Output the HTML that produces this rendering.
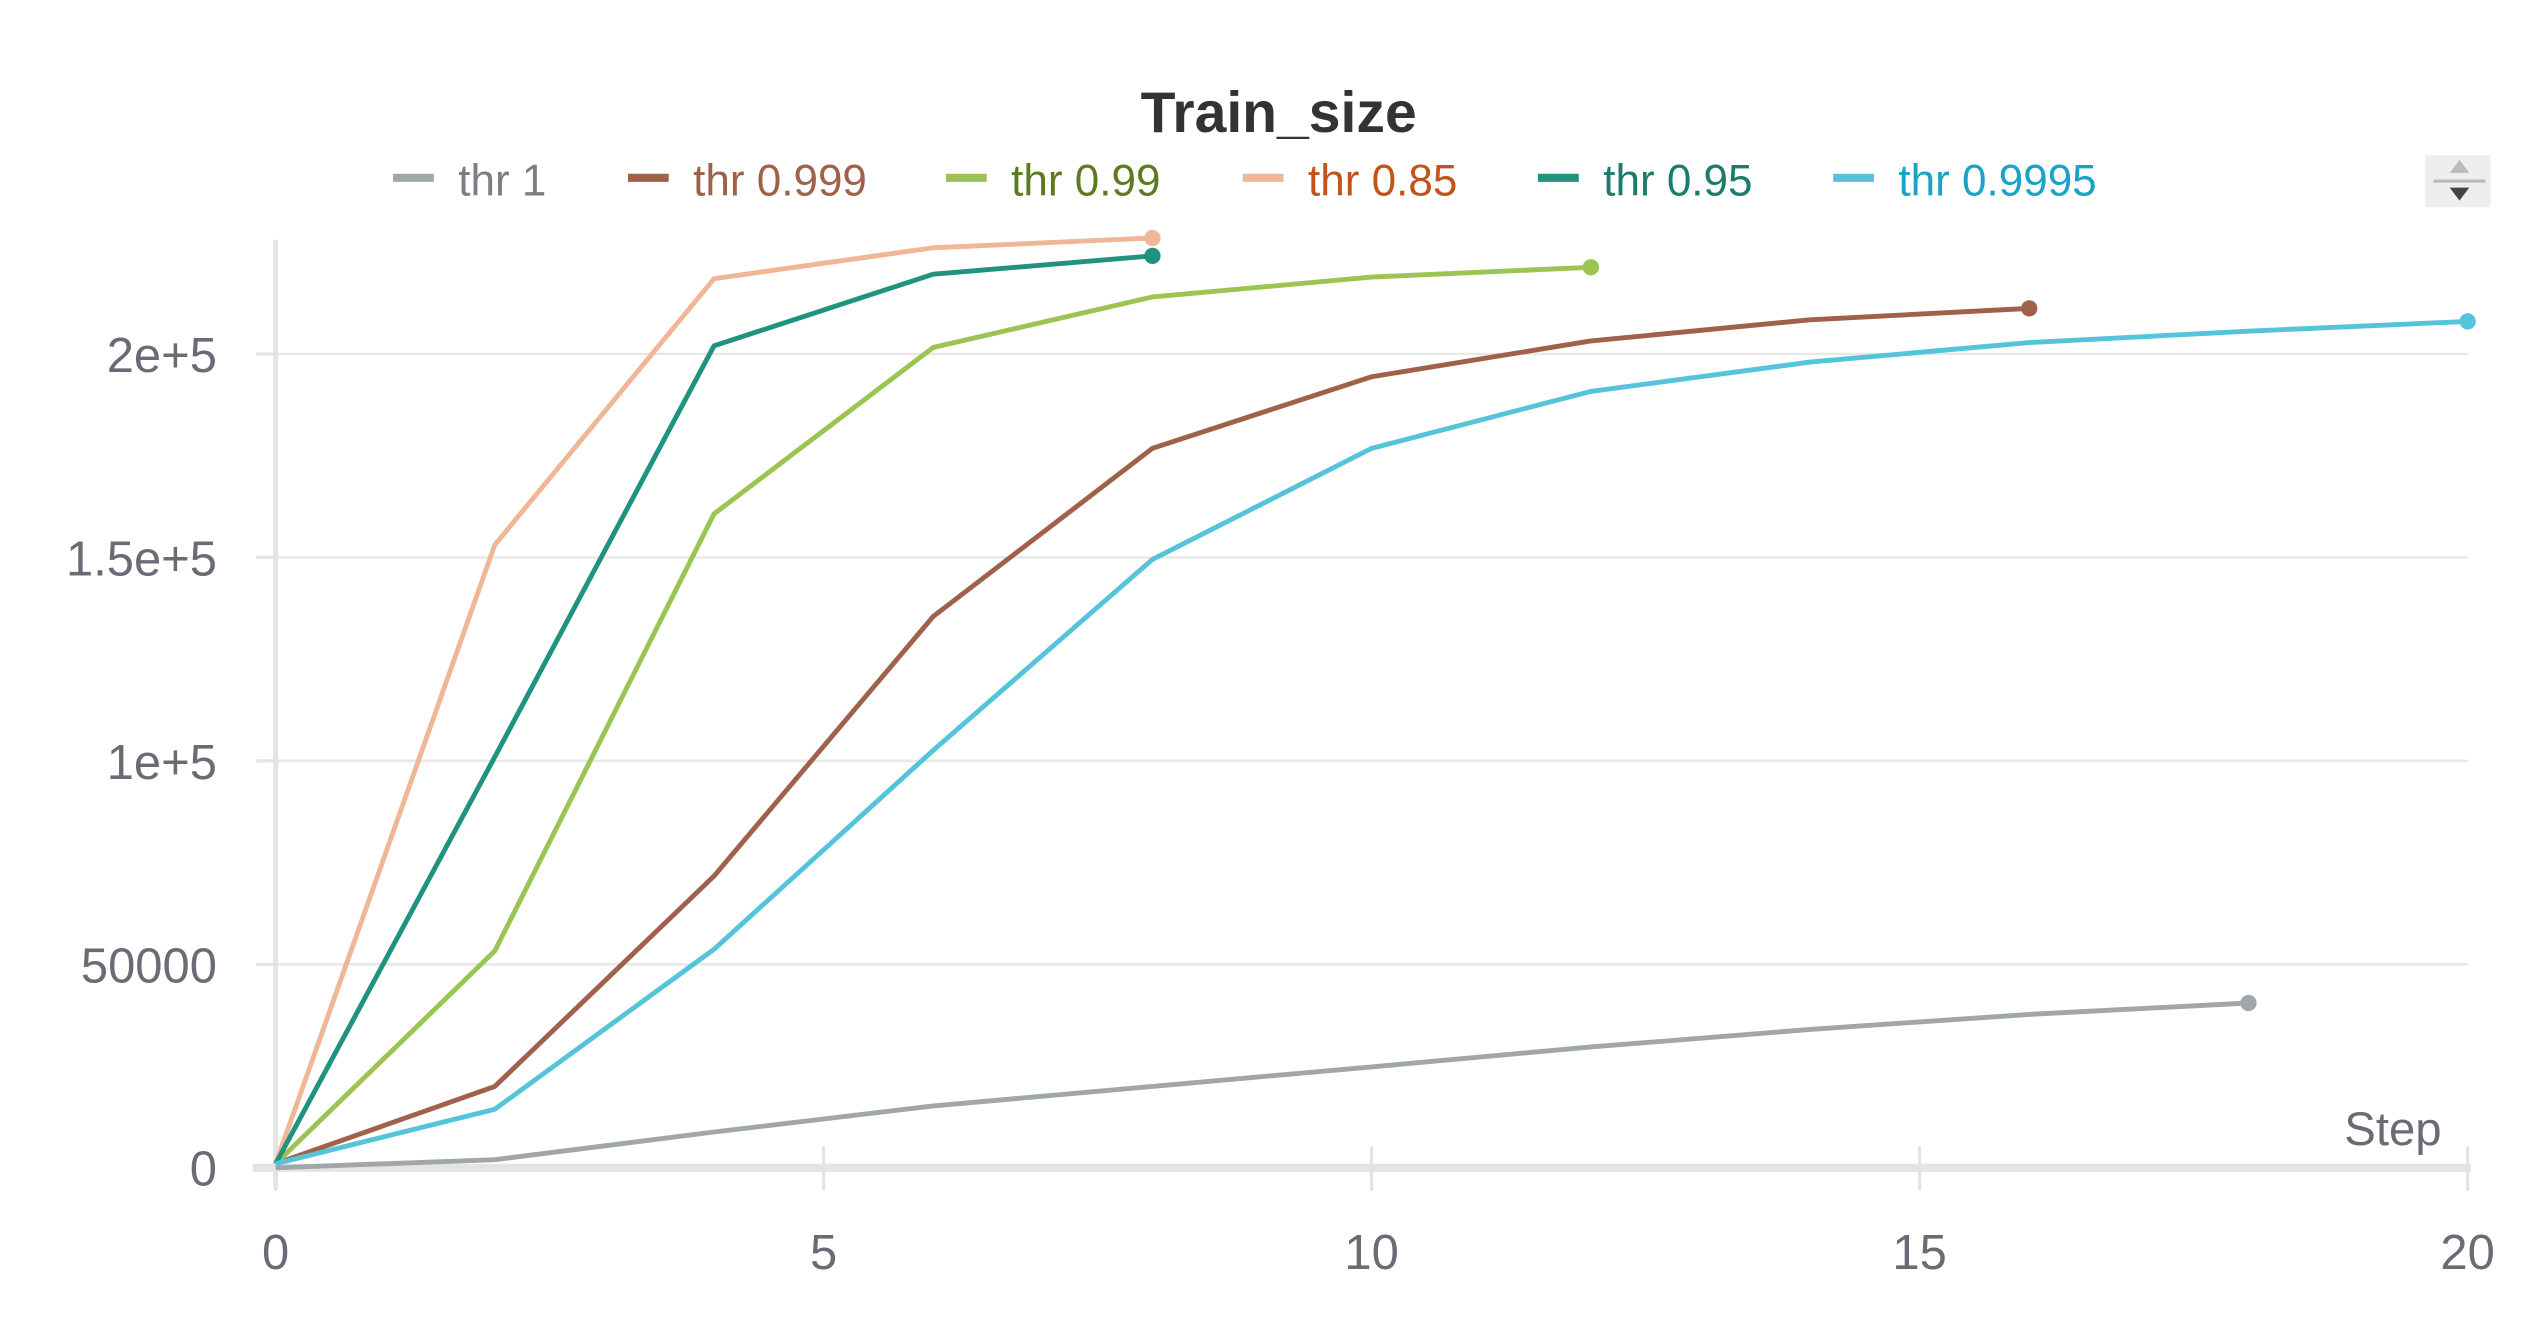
<!DOCTYPE html>
<html><head><meta charset="utf-8"><style>
html,body{margin:0;padding:0;background:#fff;}
svg{display:block;font-family:"Liberation Sans",sans-serif;}
</style></head><body>
<svg width="2528" height="1328" viewBox="0 0 1550 814.2" id="chart">
<text x="784" y="81" text-anchor="middle" font-size="35" font-weight="bold" fill="#333">Train_size</text>
<g id="legend"></g>
<g>
<rect x="1487" y="95" width="40" height="32" fill="#eee"/>
<polygon points="1502,106 1514,106 1508,98" fill="#bbb"/>
<line x1="1492" y1="111" x2="1524" y2="111" stroke="#bbb" stroke-width="2"/>
<polygon points="1502,115 1514,115 1508,123" fill="#444"/>
</g>
<g id="grid"></g>
<g id="axes"></g>
<g id="series"></g>
<text x="1497" y="702" text-anchor="end" font-size="29" fill="#6b6b76">Step</text>
</svg>
<script>
const names = ["thr 1","thr 0.999","thr 0.99","thr 0.85","thr 0.95","thr 0.9995"];
const lineColors = ["#a0a7ab","#a0614a","#9bc453","#f0b796","#1f9380","#55c4da"];
const textColors = ["#7a7f86","#a0614a","#5d7a1f","#c0541a","#1a7d6c","#1aa3c7"];
const legendX = [241,385,580,762,943,1124];
const stepsS0 = [0,2,4,6,8,10,12,14,16,18];
const valsS0 = [0,2000,8800,15200,20000,24800,29700,34000,37700,40500];
const stepsS1 = [0,2,4,6,8,10,12,14,16];
const valsS1 = [1000,20000,71700,135500,176800,194400,203200,208400,211200];
const stepsS2 = [0,2,4,6,8,10,12];
const valsS2 = [1000,53300,160700,201600,214000,218900,221300];
const stepsS3 = [0,2,4,6,8];
const valsS3 = [1000,153100,218500,226100,228500];
const stepsS4 = [0,2,4,6,8];
const valsS4 = [1000,101000,202000,219600,224100];
const stepsS5 = [0,2,4,6,8,10,12,14,16,18,20];
const valsS5 = [1000,14400,53700,102600,149500,176800,190800,198000,202800,205600,208000];
const yTicks = [0,50000,100000,150000,200000];
const yTickLabels = ["0","50000","1e+5","1.5e+5","2e+5"];
const xTicks = [0,5,10,15,20];
const xTickLabels = ["0","5","10","15","20"];

const NS="http://www.w3.org/2000/svg";
const X0=169,X1=1513,Y0=716,Y1=217;
const xs=v=>X0+(X1-X0)*v/20;
const ys=v=>Y0-(Y0-Y1)*v/200000;
function mk(tag,attrs,parent){const e=document.createElementNS(NS,tag);for(const k in attrs)e.setAttribute(k,attrs[k]);parent.appendChild(e);return e;}
const grid=document.getElementById('grid'),axes=document.getElementById('axes'),ser=document.getElementById('series'),leg=document.getElementById('legend');
yTicks.forEach((t,i)=>{
  if(t>0){const g=mk('line',{x1:X0,x2:X1,y1:ys(t),y2:ys(t),stroke:'#e8e8e8','stroke-width':1.5},grid);
  
  }
  const tk=mk('line',{x1:157,x2:169,y1:ys(t),y2:ys(t),stroke:'#e4e4e4','stroke-width':2},axes);
  
  
  const tx=mk('text',{x:133,y:ys(t)+11,'text-anchor':'end','font-size':30,fill:'#6b6b76'},axes);
  tx.textContent=yTickLabels[i];
  
  
});
const ya=mk('line',{x1:X0,x2:X0,y1:147,y2:729,stroke:'#e4e4e4','stroke-width':3},axes);


const xa=mk('line',{x1:155,x2:X1+2,y1:Y0,y2:Y0,stroke:'#e4e4e4','stroke-width':5},axes);


xTicks.forEach((t,i)=>{
  const tk=mk('line',{x1:xs(t),x2:xs(t),y1:703,y2:730,stroke:'#e4e4e4','stroke-width':2},axes);
  
  
  const tx=mk('text',{x:xs(t),y:778,'text-anchor':'middle','font-size':30,fill:'#6b6b76'},axes);
  tx.textContent=xTickLabels[i];
  
  
});
const allSteps=[stepsS0,stepsS1,stepsS2,stepsS3,stepsS4,stepsS5];
const allVals=[valsS0,valsS1,valsS2,valsS3,valsS4,valsS5];
allSteps.forEach((st,i)=>{
  const vals=allVals[i];
  const pts=st.map((s,j)=>xs(s)+','+ys(vals[j])).join(' ');
  const pl=mk('polyline',{points:pts,fill:'none',stroke:lineColors[i],'stroke-width':3,'stroke-linejoin':'round'},ser);
  
  
  const n=st.length-1;
  const c=mk('circle',{cx:xs(st[n]),cy:ys(vals[n]),r:5,fill:lineColors[i]},ser);
  
  
  const ln=mk('line',{x1:legendX[i],x2:legendX[i]+25,y1:109,y2:109,stroke:lineColors[i],'stroke-width':5},leg);
  
  
  const tx=mk('text',{x:legendX[i]+40,y:120,'font-size':27,fill:textColors[i]},leg);
  tx.textContent=names[i];
  
  
});
</script>
</body></html>
